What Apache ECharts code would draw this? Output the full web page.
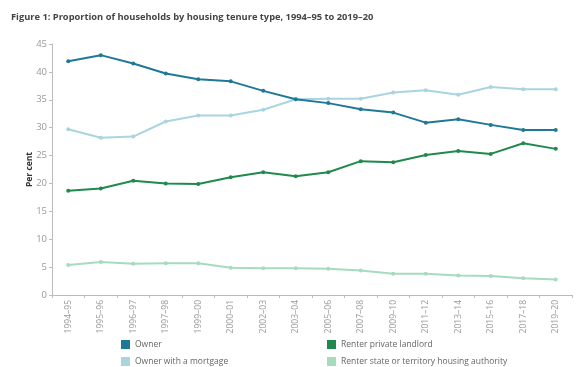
<!DOCTYPE html>
<html>
<head>
<meta charset="utf-8">
<script src="https://cdn.jsdelivr.net/npm/echarts@6/dist/echarts.min.js"></script>
<style>
html,body{margin:0;padding:0;background:#fff;}
#c{width:579px;height:367px;}
</style>
</head>
<body>
<div id="c"></div>
<script>
const categories = ['1994–95','1995–96','1996–97','1997–98','1999–00','2000–01','2002–03','2003–04','2005–06','2007–08','2009–10','2011–12','2013–14','2015–16','2017–18','2019–20'];
const owner = [41.9, 43.0, 41.5, 39.7, 38.7, 38.3, 36.6, 35.1, 34.4, 33.3, 32.7, 30.9, 31.5, 30.5, 29.6, 29.6];
const ownerMortgage = [29.7, 28.2, 28.4, 31.1, 32.2, 32.2, 33.2, 35.1, 35.2, 35.2, 36.3, 36.7, 35.9, 37.3, 36.9, 36.9];
const renterPrivate = [18.7, 19.1, 20.5, 20.0, 19.9, 21.1, 22.0, 21.3, 22.0, 24.0, 23.8, 25.1, 25.8, 25.3, 27.2, 26.2];
const renterState = [5.4, 5.9, 5.6, 5.7, 5.7, 4.9, 4.8, 4.8, 4.7, 4.4, 3.8, 3.8, 3.5, 3.4, 3.0, 2.8];
const yTicks = [0, 5, 10, 15, 20, 25, 30, 35, 40, 45];

const names = ['Owner', 'Owner with a mortgage', 'Renter private landlord', 'Renter state or territory housing authority'];
const colors = ['#1f7896', '#a9d4e0', '#1f8a4c', '#a6dbbd'];
const datasets = [owner, ownerMortgage, renterPrivate, renterState];

const font = 'Open Sans';
const legendPos = [[120, 339], [120, 356], [326, 339], [326, 356]];
const chart = echarts.init(document.getElementById('c'), null, {renderer: 'canvas'});
chart.setOption({
  animation: false,
  title: {
    text: 'Figure 1: Proportion of households by housing tenure type, 1994–95 to 2019–20',
    left: 6, top: 8,
    textStyle: {fontFamily: font, fontSize: 9.3, fontWeight: 'bold', color: '#444'}
  },
  legend: names.map((n, i) => ({
    data: [n], left: legendPos[i][0], top: legendPos[i][1], padding: 1,
    icon: 'rect', itemWidth: 9, itemHeight: 9,
    textStyle: {fontFamily: font, fontSize: 8.5, color: '#666'}
  })),
  grid: {left: 52, right: 7, top: 44, bottom: 72},
  xAxis: {
    type: 'category', data: categories, boundaryGap: true,
    axisLine: {lineStyle: {color: '#bbb'}},
    axisTick: {show: true, length: 3, lineStyle: {color: '#bbb'}},
    axisLabel: {rotate: 90, fontFamily: font, fontSize: 8.5, color: '#999', margin: 5, interval: 0}
  },
  yAxis: {
    type: 'value', min: yTicks[0], max: yTicks[yTicks.length - 1], interval: 5,
    name: 'Per cent', nameLocation: 'middle', nameGap: 18, nameRotate: 90,
    nameMoveOverlap: false,
    nameTextStyle: {fontFamily: font, fontSize: 8.5, fontWeight: 'bold', color: '#333'},
    axisLine: {show: true, lineStyle: {color: '#bbb'}},
    axisTick: {show: true, length: 3, lineStyle: {color: '#bbb'}},
    splitLine: {show: false},
    axisLabel: {fontFamily: font, fontSize: 9.5, color: '#999', margin: 5}
  },
  series: datasets.map((d, i) => ({
    name: names[i], type: 'line', data: d,
    color: colors[i],
    symbol: 'circle', symbolSize: 4, showSymbol: true,
    lineStyle: {width: 2, color: colors[i]},
    itemStyle: {color: colors[i]},
    z: 10 - i
  }))
});
</script>
</body>
</html>
